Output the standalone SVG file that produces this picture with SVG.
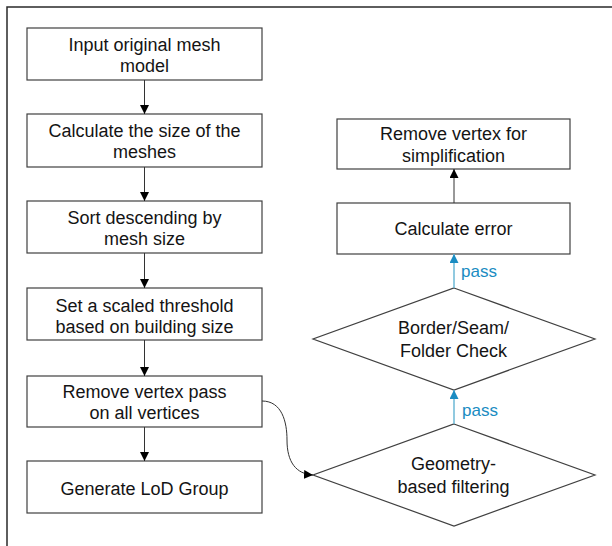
<svg xmlns="http://www.w3.org/2000/svg" width="612" height="546" viewBox="0 0 612 546">
<defs>
<marker id="ab" markerWidth="9" markerHeight="9" refX="9" refY="4.5" orient="auto" markerUnits="userSpaceOnUse"><path d="M0,0 L9,4.5 L0,9 Z" fill="#000"/></marker>
<marker id="au" markerWidth="9" markerHeight="9" refX="9" refY="4.5" orient="auto" markerUnits="userSpaceOnUse"><path d="M0,0 L9,4.5 L0,9 Z" fill="#1a8cc2"/></marker>
<style>
.box{fill:#fff;stroke:#404040;stroke-width:1.2}
.t{font-family:"Liberation Sans",Arial,sans-serif;font-size:18px;fill:#141414;text-anchor:middle}
.p{font-family:"Liberation Sans",Arial,sans-serif;font-size:17px;fill:#1a8cc2}
.c{fill:none;stroke:#333;stroke-width:1}
.cb{fill:none;stroke:#6cb9d6;stroke-width:1.5}
</style>
</defs>
<rect width="612" height="546" fill="#fff"/>
<path d="M7,546 V7 H612" fill="none" stroke="#2a2a2a" stroke-width="1.5"/>
<g id="n1"><rect class="box" x="27" y="28" width="235" height="52"/><text class="t" x="144.5" y="51">Input original mesh</text><text class="t" x="144.5" y="72">model</text></g>
<g id="n2"><rect class="box" x="27" y="114" width="235" height="53"/><text class="t" x="144.5" y="137">Calculate the size of the</text><text class="t" x="144.5" y="158">meshes</text></g>
<g id="n3"><rect class="box" x="27" y="201" width="235" height="52"/><text class="t" x="144.5" y="224">Sort descending by</text><text class="t" x="144.5" y="245">mesh size</text></g>
<g id="n4"><rect class="box" x="27" y="288" width="235" height="52"/><text class="t" x="144.5" y="312">Set a scaled threshold</text><text class="t" x="144.5" y="333">based on building size</text></g>
<g id="n5"><rect class="box" x="27" y="376" width="235" height="51"/><text class="t" x="144.5" y="398">Remove vertex pass</text><text class="t" x="144.5" y="419">on all vertices</text></g>
<g id="n6"><rect class="box" x="27" y="461" width="235" height="52"/><text class="t" x="144.5" y="495">Generate LoD Group</text></g>
<g id="r1"><rect class="box" x="337" y="119" width="233" height="50"/><text class="t" x="453.5" y="140">Remove vertex for</text><text class="t" x="453.5" y="162">simplification</text></g>
<g id="r2"><rect class="box" x="337" y="203" width="233" height="51"/><text class="t" x="453.5" y="235">Calculate error</text></g>
<g id="d1"><polygon class="box" points="454,288 595,339 454,390 313,339"/><text class="t" x="453.5" y="334">Border/Seam/</text><text class="t" x="453.5" y="357">Folder Check</text></g>
<g id="d2"><polygon class="box" points="454,424 595,475 454,526 313,475"/><text class="t" x="453.5" y="470">Geometry-</text><text class="t" x="453.5" y="493">based filtering</text></g>
<g id="connectors">
<line class="c" x1="144.5" y1="80" x2="144.5" y2="114" marker-end="url(#ab)"/>
<line class="c" x1="144.5" y1="167" x2="144.5" y2="201" marker-end="url(#ab)"/>
<line class="c" x1="144.5" y1="253" x2="144.5" y2="288" marker-end="url(#ab)"/>
<line class="c" x1="144.5" y1="340" x2="144.5" y2="376" marker-end="url(#ab)"/>
<line class="c" x1="144.5" y1="427" x2="144.5" y2="461" marker-end="url(#ab)"/>
<line class="c" x1="454" y1="203" x2="454" y2="169" marker-end="url(#ab)"/>
<path class="c" d="M262,401 C282,401 287,422 287,440 C287,462 296,474 313,475" marker-end="url(#ab)"/>
<line class="cb" x1="454" y1="288" x2="454" y2="254" marker-end="url(#au)"/>
<line class="cb" x1="454" y1="424" x2="454" y2="390" marker-end="url(#au)"/>
<text class="p" x="461" y="277">pass</text>
<text class="p" x="462" y="416">pass</text>
</g>
</svg>
